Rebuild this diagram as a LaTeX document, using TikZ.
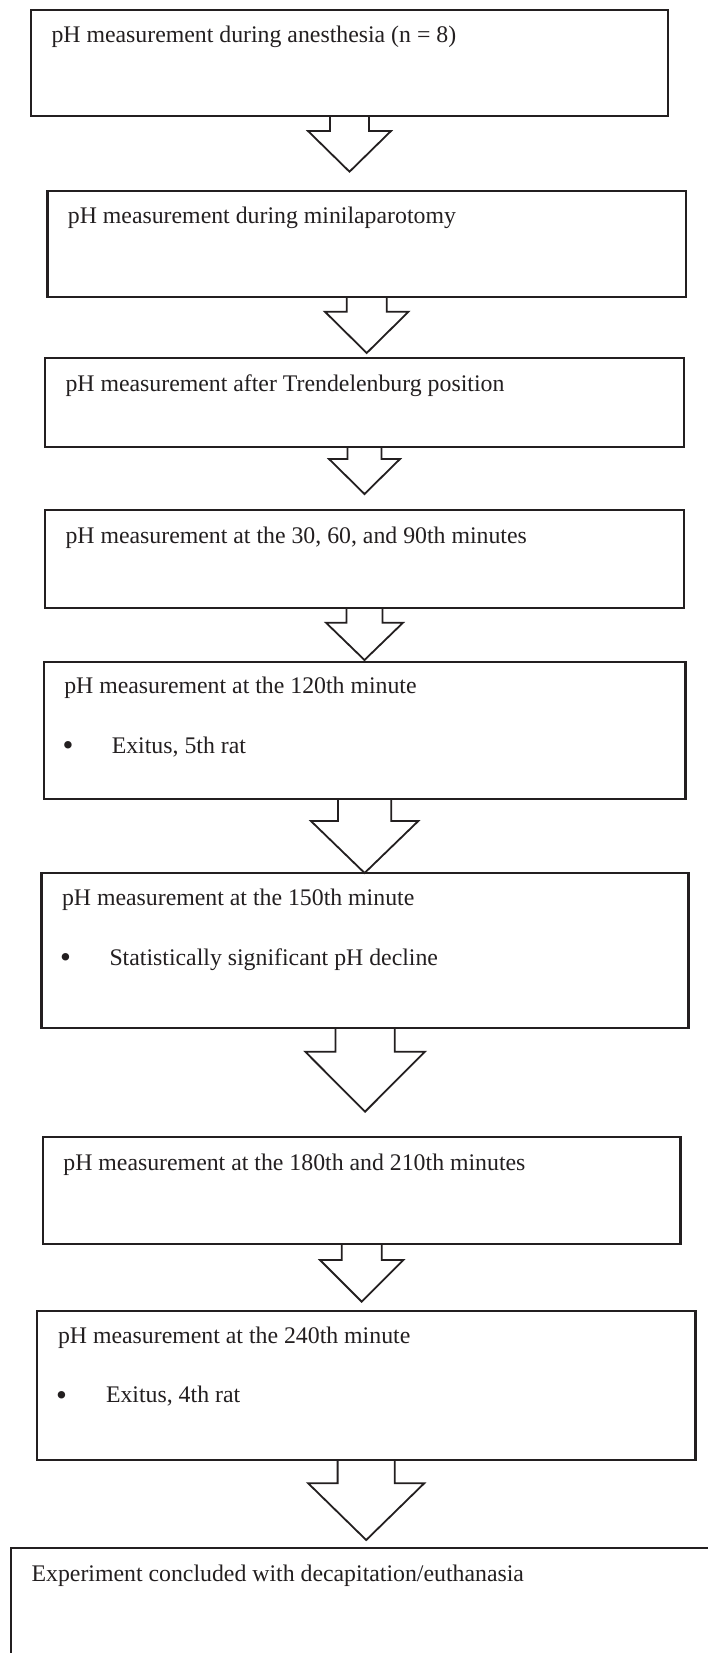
\documentclass[tikz,border=0pt]{standalone}
\usepackage{fontspec}
\setmainfont{Liberation Serif}
\definecolor{ink}{RGB}{35,31,32}
% #1 box above, #2 shaft half width, #3 shaft length, #4 head half width, #5 head length, #6 tip name
\newcommand{\myarrow}[6]{%
  \draw[arr] ([xshift=-#2pt]#1.south) -- ++(0,#3) -- ++({#2-#4},0)
    -- ++(#4,#5) coordinate (#6) -- ++(#4,-#5) -- ++({#2-#4},0) -- ++(0,-#3);}
\begin{document}
\begin{tikzpicture}[x=1pt,y=-1pt,
  box/.style={draw=ink, line width=2.3pt, anchor=north west, inner sep=0pt, outer sep=0pt},
  txt/.style={anchor=base west, inner sep=0pt, outer sep=0pt, text=ink, font=\fontsize{23.8}{28}\selectfont},
  bul/.style={txt, font=\fontsize{31}{34}\selectfont},
  arr/.style={draw=ink, line width=1.8pt, line join=miter}]
\useasboundingbox (0,0) rectangle (708,1653);
\clip (0,0) rectangle (708,1653);
\fill[white] (0,0) rectangle (708,1653);

% boxes
\node[box, minimum width=637pt,   minimum height=105.7pt] (b1) at (31,10) {};
\node[box, minimum width=638.6pt, minimum height=106pt]   (b2) at (47.4,190.7) {};
\node[box, minimum width=639pt,   minimum height=89pt]    (b3) at (45,357.7) {};
\node[box, minimum width=639pt,   minimum height=97.7pt]  (b4) at (45,510) {};
\node[box, minimum width=641.6pt, minimum height=137.6pt] (b5) at (43.8,661.7) {};
\node[box, minimum width=647.1pt, minimum height=155pt]   (b6) at (41.5,873.3) {};
\node[box, minimum width=637.6pt, minimum height=107.6pt] (b7) at (42.9,1136.7) {};
\node[box, minimum width=658.4pt, minimum height=149.3pt] (b8) at (37,1310.7) {};
\node[box, minimum width=720pt,   minimum height=140pt]   (b9) at (11.3,1547.7) {};

% texts
\node[txt] (t1) at ([shift={(20.5,33)}]b1.north west) {pH measurement during anesthesia (n = 8)};
\node[txt] (t2) at ([shift={(20.5,33)}]b2.north west) {pH measurement during minilaparotomy};
\node[txt] (t3) at ([shift={(20.5,33.5)}]b3.north west) {pH measurement after Trendelenburg position};
\node[txt] (t4) at ([shift={(20.5,33)}]b4.north west) {pH measurement at the 30, 60, and 90th minutes};
\node[txt] (t5) at ([shift={(20.5,31.5)}]b5.north west) {pH measurement at the 120th minute};
\node[bul] (u5) at ([shift={(18.7,94)}]b5.north west) {•};
\node[txt] (v5) at ([shift={(68,91.5)}]b5.north west) {Exitus, 5th rat};
\node[txt] (t6) at ([shift={(20.5,31.7)}]b6.north west) {pH measurement at the 150th minute};
\node[bul] (u6) at ([shift={(18.7,94.2)}]b6.north west) {•};
\node[txt] (v6) at ([shift={(68,91.7)}]b6.north west) {Statistically significant pH decline};
\node[txt] (t7) at ([shift={(20.5,33.3)}]b7.north west) {pH measurement at the 180th and 210th minutes};
\node[txt] (t8) at ([shift={(21,32.3)}]b8.north west) {pH measurement at the 240th minute};
\node[bul] (u8) at ([shift={(19.2,94.5)}]b8.north west) {•};
\node[txt] (v8) at ([shift={(69,92)}]b8.north west) {Exitus, 4th rat};
\node[txt] (t9) at ([shift={(20.3,34)}]b9.north west) {Experiment concluded with decapitation/euthanasia};

% block arrows
\myarrow{b1}{19.5}{15.3}{41.5}{40.7}{a1}
\myarrow{b2}{20}{15}{41.8}{41.3}{a2}
\myarrow{b3}{17}{12.3}{35.5}{35}{a3}
\myarrow{b4}{18}{15}{38.5}{37.3}{a4}
\myarrow{b5}{26.7}{21.7}{53.7}{52}{a5}
\myarrow{b6}{29.6}{23.4}{59.8}{60}{a6}
\myarrow{b7}{20}{15.7}{41.7}{41.7}{a7}
\myarrow{b8}{28.6}{23.3}{58}{56.7}{a8}
\end{tikzpicture}
\end{document}
